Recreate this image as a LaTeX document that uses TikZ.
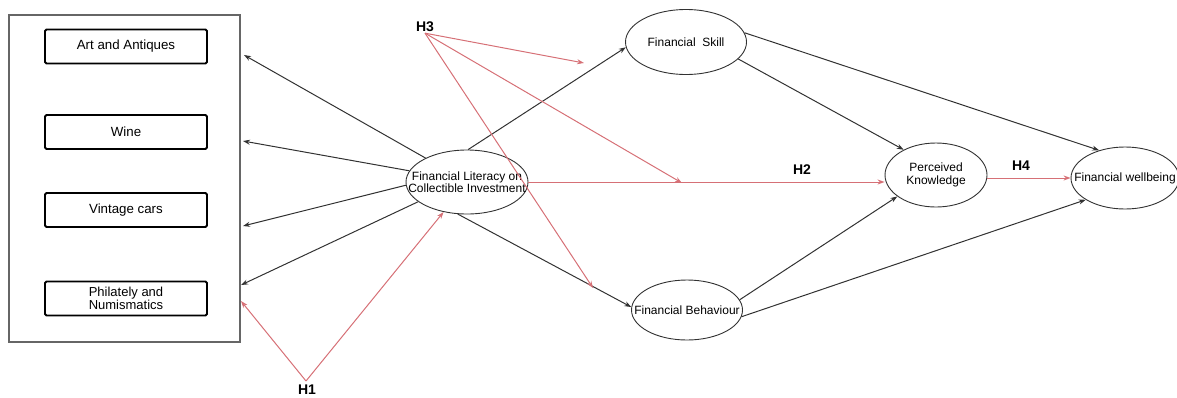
\documentclass[tikz,border=0pt]{standalone}
\usepackage{fontspec}
\setmainfont{Liberation Sans}
\usetikzlibrary{arrows.meta,shapes.geometric}
\definecolor{hred}{RGB}{214,112,118}
\definecolor{dline}{RGB}{50,50,50}
\tikzset{
  itembox/.style={draw=black, line width=1.8pt, rounded corners=1.5pt, minimum width=162pt, minimum height=34pt, inner sep=1pt, align=center, font=\fontsize{13.3}{13.5}\selectfont},
  latent/.style={draw=dline, line width=0.9pt, ellipse, inner sep=0pt},
  ltext/.style={align=center, inner sep=0pt, font=\fontsize{12}{12.5}\selectfont},
  blk/.style={draw=dline, line width=1pt, -{Stealth[length=7pt,width=5pt]}},
  rd/.style={draw=hred, line width=1pt, -{Stealth[length=7pt,width=5pt]}},
  hyp/.style={font=\bfseries\fontsize{14}{14}\selectfont, inner sep=1pt}
}
\begin{document}
\begin{tikzpicture}[x=1pt,y=-1pt]
\useasboundingbox (0,0) rectangle (1177,397);
% outer frame
\node[draw=black!60, line width=1.3pt, minimum width=231pt, minimum height=327pt, inner sep=0pt] (outer) at (124.5,178.5) {};
\node[itembox] (art) at (126,46.5) {Art and Antiques};
\node[itembox] (wine) at (126,132) {Wine};
\node[itembox] (vint) at (126,210) {Vintage cars};
\node[itembox, font=\fontsize{13}{12.5}\selectfont] (phil) at (126,298.5) {Philately and\\Numismatics};
% latent variables
\node[latent, minimum width=122pt, minimum height=64pt] (fl) at (467,182) {};
\node[ltext] (flt) at (fl.center) {Financial Literacy on\\Collectible Investment};
\node[latent, minimum width=121pt, minimum height=65pt] (fs) at (686,42) {};
\node[ltext] (fst) at (fs.center) {Financial~~Skill};
\node[latent, minimum width=111pt, minimum height=60pt] (fb) at (687,310) {};
\node[ltext] (fbt) at (fb.center) {Financial Behaviour};
\node[latent, minimum width=102pt, minimum height=64pt] (pk) at (936,175) {};
\node[ltext] (pkt) at (pk.center) {Perceived\\Knowledge};
\node[latent, minimum width=108pt, minimum height=62pt] (fw) at (1125,178) {};
\node[ltext] (fwt) at (fw.center) {Financial wellbeing};
% hypothesis labels
\node[hyp] (h3) at (425,27) {H3};
\node[hyp] (h2) at (802,170) {H2};
\node[hyp] (h4) at (1021,166) {H4};
\node[hyp] (h1) at (307,390) {H1};
% free ends
\coordinate (tA) at (244,55);
\coordinate (tW) at (243,141);
\coordinate (tV) at (243,226);
\coordinate (tP) at (241,285);
\coordinate (tH1) at (241,301);
\coordinate (h1o) at (306,381);
\coordinate (h3a) at (584,63);
\coordinate (h3b) at (682,183);
\coordinate (h3c) at (593,288);
% black connectors
\draw[blk] (fl.150) -- (tA);
\draw[blk] (fl.169) -- (tW);
\draw[blk] (fl.183) -- (tV);
\draw[blk] (fl.202) -- (tP);
\draw[blk] (fl.88) -- (fs.185);
\draw[blk] (fl.254) -- (fb.177);
\draw[blk] (fs.9) -- (fw.133);
\draw[blk] (fs.342) -- (pk.142);
\draw[blk] (fb.11) -- (pk.209);
\draw[blk] (fb.353) -- (fw.209);
% red connectors
\draw[rd] (fl.east) -- (pk.west |- fl.east);
\draw[rd] (pk.east |- fw.west) -- (fw.west);
\draw[rd] (h3.south) -- (h3a);
\draw[rd] (h3.south) -- (h3b);
\draw[rd] (h3.south) -- (h3c);
\draw[rd] (h1o) -- (tH1);
\draw[rd] (h1o) -- (fl.232);
\end{tikzpicture}
\end{document}
